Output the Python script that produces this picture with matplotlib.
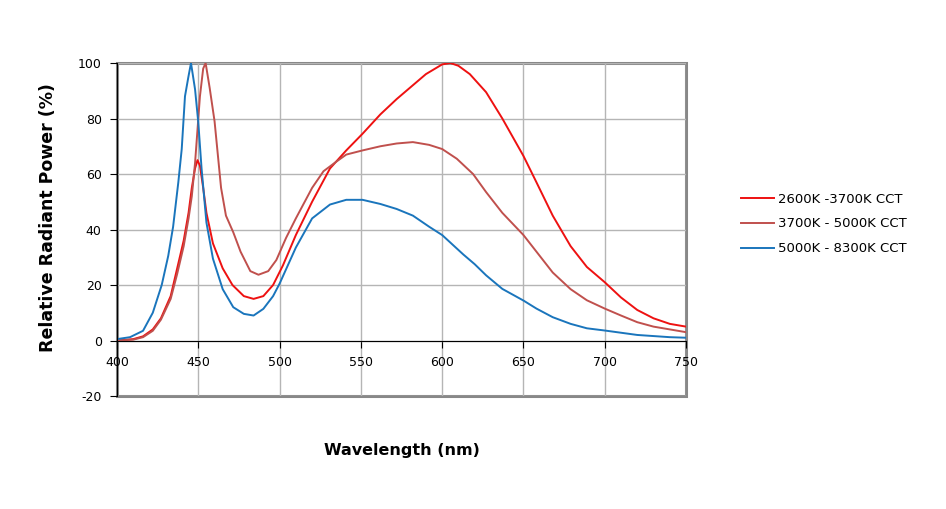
import matplotlib
matplotlib.use("Agg")
import matplotlib.pyplot as plt
from matplotlib.patches import Rectangle

plt.rcParams["axes.unicode_minus"] = False

# --- data (wavelength nm, relative power %) ---
wl_warm = [400, 410, 416, 422, 427, 433, 437, 441, 444, 446, 448, 449.5, 451, 453, 455,
           459, 465, 471, 478, 484, 490, 496, 502, 510, 520, 531, 541, 551, 562, 572,
           580, 590, 600, 605, 610, 617, 627, 637, 650, 658, 668, 679, 689, 700, 710,
           720, 730, 740, 750]
pw_warm = [0, 0.5, 1.5, 4, 8, 16, 26, 36, 46, 55, 62, 65, 63, 55, 46,
           35, 26, 20, 16, 15, 16, 20, 27, 38, 50, 62, 68.5, 74.5, 81.5, 87,
           91, 96, 99.5, 100, 99, 96, 89.5, 80, 66.5, 57, 45, 34, 26.5, 21, 15.5,
           11, 8, 6, 5]

wl_neutral = [400, 410, 416, 422, 427, 433, 437, 441, 444, 446, 448, 451, 453, 454.5, 457,
              460, 462, 464, 467, 471.5, 476, 482, 487, 493, 498, 504, 510, 520, 527, 535,
              541, 551, 562, 572, 582, 592, 600, 609, 619, 627, 637, 650, 658, 668, 679,
              689, 700, 710, 720, 730, 740, 750]
pw_neutral = [0, 0.3, 1.2, 3.5, 7.5, 15, 24, 34, 44, 52, 64, 88, 98, 100, 91,
              79, 67, 55, 45, 39, 32, 25, 23.7, 25, 29, 37, 44, 55, 61, 64.5,
              67, 68.5, 70, 71, 71.5, 70.5, 69, 65.5, 60, 53.5, 46, 38, 32, 24.5, 18.5,
              14.5, 11.5, 9, 6.6, 5, 4, 3]

wl_cool = [400, 408, 416, 422, 427.5, 431.5, 434.5, 437.7, 439.8, 441.8, 443.9, 445.5, 448, 450, 452,
           455, 459, 465, 471.5, 478, 484, 490, 496, 500, 505, 510, 520, 531, 541, 551,
           562, 572, 582, 592, 600, 613, 620, 627, 637, 650, 658, 668, 679, 689, 700,
           710, 720, 730, 740, 750]
pw_cool = [0.5, 1.2, 3.5, 10, 20, 30.5, 41, 57, 69, 88, 95, 100, 90.5, 78.5, 62,
           42.5, 29.5, 18.5, 12, 9.6, 9, 11.4, 16, 20.5, 27, 33.5, 44, 49, 50.7, 50.7,
           49.2, 47.4, 45, 41, 38, 31, 27.5, 23.5, 18.6, 14.4, 11.5, 8.4, 6, 4.4, 3.6,
           2.8, 2, 1.6, 1.2, 1]

labels = ["2600K -3700K CCT", "3700K - 5000K CCT", "5000K - 8300K CCT"]
colors = ["#EE1111", "#C0504D", "#1A75BC"]

fig = plt.figure(figsize=(9.46, 5.09), dpi=100)
ax = fig.add_axes([0.1237, 0.222, 0.6015, 0.6542])

ax.plot(wl_warm, pw_warm, color=colors[0], lw=1.4, label=labels[0])
ax.plot(wl_neutral, pw_neutral, color=colors[1], lw=1.4, label=labels[1])
ax.plot(wl_cool, pw_cool, color=colors[2], lw=1.4, label=labels[2])

ax.set_xlim(400, 750)
ax.set_ylim(-20, 100)
ax.set_xticks(range(400, 751, 50))
ax.set_yticks(range(-20, 101, 20))
ax.grid(True, color="#b5b5b5", lw=1.0)
ax.set_axisbelow(True)

# Excel style: category axis crosses at 0, grey plot-area border
for s in ["top", "right"]:
    ax.spines[s].set_visible(False)
ax.spines["bottom"].set_position(("data", 0))
ax.spines["bottom"].set_color("black")
ax.spines["left"].set_color("black")
ax.add_patch(Rectangle((0, 0), 1, 1, transform=ax.transAxes, fill=False,
                       ec="#888888", lw=2.2, zorder=0.5, clip_on=False))
ax.tick_params(axis="x", direction="out", length=5, labelsize=9, pad=6, color="black")
ax.tick_params(axis="y", direction="out", length=5, labelsize=9, pad=6, color="black")

ax.set_xlabel("Wavelength (nm)", fontsize=11.5, fontweight="bold")
ax.xaxis.set_label_coords(0.5, -0.14)
ax.set_ylabel("Relative Radiant Power (%)", fontsize=12.5, fontweight="bold")
ax.yaxis.set_label_coords(-0.105, 0.535)

ax.legend(loc="center left", bbox_to_anchor=(0.771, 0.56), bbox_transform=fig.transFigure,
          frameon=False, fontsize=9.5, handlelength=2.5, handletextpad=0.3, labelspacing=0.9)

fig.savefig("out.png", dpi=100)
